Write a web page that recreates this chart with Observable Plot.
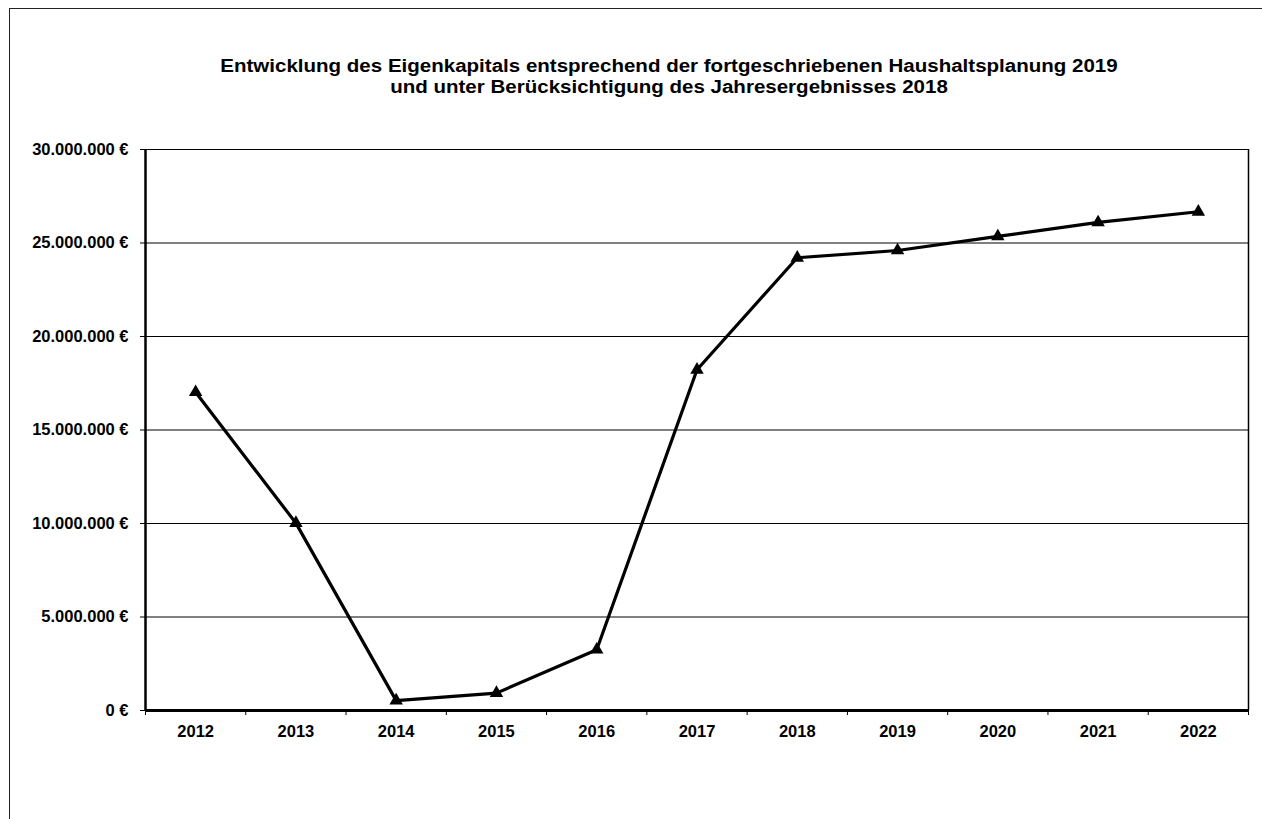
<!DOCTYPE html>
<html>
<head>
<meta charset="utf-8">
<script src="https://cdn.jsdelivr.net/npm/d3@7"></script>
<script src="https://cdn.jsdelivr.net/npm/@observablehq/plot@0.6"></script>
<style>
  html, body { margin: 0; padding: 0; background: #fff; overflow: hidden; }
  body { width: 1262px; height: 819px; position: relative; font-family: "Liberation Sans", Arial, sans-serif; }
  #frame { position: absolute; left: 9px; top: 8px; width: 1400px; height: 1000px; border: 1px solid #222; box-sizing: border-box; }
  #title { position: absolute; left: 169px; width: 1000px; top: 56px; text-align: center; font-weight: bold; font-size: 18px; line-height: 21px; color: #000; transform: scaleX(1.14); transform-origin: 500px 0; }
  #chart { position: absolute; left: 0; top: 0; }
</style>
</head>
<body>
<div id="frame"></div>
<div id="title">Entwicklung des Eigenkapitals entsprechend der fortgeschriebenen Haushaltsplanung 2019<br>und unter Berücksichtigung des Jahresergebnisses 2018</div>
<div id="chart"></div>
<script>
const years = [2012, 2013, 2014, 2015, 2016, 2017, 2018, 2019, 2020, 2021, 2022];
const equity = [17020000, 10020000, 530000, 930000, 3250000, 18220000, 24210000, 24600000, 25350000, 26100000, 26670000];
const yTicks = [0, 5000000, 10000000, 15000000, 20000000, 25000000, 30000000];

const data = years.map((y, i) => ({year: y, value: equity[i]}));
const boundaries = [years[0] - 0.5, ...years.map(y => y + 0.5)];

const locale = d3.formatLocale({decimal: ",", thousands: ".", grouping: [3], currency: ["", " €"]});
const fmt = locale.format(",.0f");
const yFormat = v => fmt(v) + " €";

const chart = Plot.plot({
  width: 1262,
  height: 819,
  marginLeft: 145,
  marginRight: 14,
  marginTop: 149,
  marginBottom: 109,
  style: {fontFamily: "'Liberation Sans', Arial, sans-serif", background: "transparent", color: "#000"},
  x: {type: "linear", domain: [boundaries[0], boundaries[boundaries.length - 1]]},
  y: {domain: [0, 30000000]},
  marks: [
    Plot.ruleY(yTicks, {stroke: "#000", strokeWidth: 1}),
    Plot.axisY({ticks: yTicks, tickFormat: yFormat, tickSize: 5, tickPadding: 12, fontSize: 16.5, fontWeight: "bold", label: null, stroke: "#000"}),
    Plot.axisX({ticks: years, tickFormat: d => String(d), tickSize: 0, tickPadding: 15, fontSize: 16.5, fontWeight: "bold", label: null}),
    Plot.axisX({ticks: boundaries, tickFormat: () => "", tickSize: 5, label: null, stroke: "#000"}),
    Plot.ruleX([boundaries[0]], {stroke: "#000", strokeWidth: 2.5}),
    Plot.ruleX([boundaries[boundaries.length - 1]], {stroke: "#000", strokeWidth: 1.5}),
    Plot.ruleY([0], {stroke: "#000", strokeWidth: 3}),
    Plot.line(data, {x: "year", y: "value", stroke: "#000", strokeWidth: 3.2, strokeLinejoin: "round"}),
    Plot.dot(data, {x: "year", y: "value", symbol: "triangle", r: 5, fill: "#000", stroke: "none"})
  ]
});
document.getElementById("chart").appendChild(chart);
</script>
</body>
</html>
